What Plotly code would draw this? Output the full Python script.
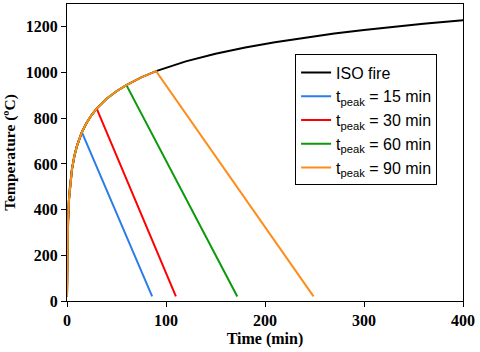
import plotly.graph_objects as go

# ISO 834 standard fire curve
iso_time = [0.5, 1, 2, 3, 4, 5, 7.5, 10, 15, 20, 25, 30, 40, 50, 60, 75, 90,
            105, 120, 150, 180, 210, 240, 270, 300, 330, 360, 400]
iso_temp = [261, 349, 445, 502, 544, 576, 636, 678, 739, 781, 815, 842, 885,
            918, 945, 979, 1006, 1029, 1049, 1082, 1110, 1133, 1153, 1171,
            1186, 1200, 1214, 1229]

# parametric curves: heating along ISO, then linear decay to ambient
t15_time = [0, 0.5, 1, 2, 3, 4, 5, 7.5, 10, 15, 86]
t15_temp = [20, 261, 349, 445, 502, 544, 576, 636, 678, 739, 20]

t30_time = [0, 0.5, 1, 2, 3, 4, 5, 7.5, 10, 15, 20, 25, 30, 110]
t30_temp = [20, 261, 349, 445, 502, 544, 576, 636, 678, 739, 781, 815, 842, 20]

t60_time = [0, 0.5, 1, 2, 3, 4, 5, 7.5, 10, 15, 20, 25, 30, 40, 50, 60, 172]
t60_temp = [20, 261, 349, 445, 502, 544, 576, 636, 678, 739, 781, 815, 842,
            885, 918, 945, 20]

t90_time = [0, 0.5, 1, 2, 3, 4, 5, 7.5, 10, 15, 20, 25, 30, 40, 50, 60, 75,
            90, 249]
t90_temp = [20, 261, 349, 445, 502, 544, 576, 636, 678, 739, 781, 815, 842,
            885, 918, 945, 979, 1006, 20]

series = [
    ("ISO fire", iso_time, iso_temp, "black"),
    ("t<sub>peak</sub> = 15 min", t15_time, t15_temp, "#2b7de9"),
    ("t<sub>peak</sub> = 30 min", t30_time, t30_temp, "#ff0000"),
    ("t<sub>peak</sub> = 60 min", t60_time, t60_temp, "#0a9a0a"),
    ("t<sub>peak</sub> = 90 min", t90_time, t90_temp, "#ff8c1a"),
]

fig = go.Figure()
for name, x, y, color in series:
    fig.add_trace(go.Scatter(
        x=x, y=y, mode="lines", name=name,
        line=dict(color=color, width=2),
    ))

serif_bold = dict(family="Liberation Serif", size=16, color="black", weight="bold")

axis_common = dict(
    showgrid=False, zeroline=False,
    showline=True, linecolor="black", linewidth=1, mirror=True,
    ticks="outside", ticklen=5, tickcolor="black",
    tickfont=serif_bold,
)

fig.update_layout(
    width=480, height=352,
    plot_bgcolor="white", paper_bgcolor="white",
    margin=dict(l=67, r=17, t=4, b=51),
    xaxis=dict(range=[0, 400], dtick=100,
               title=dict(text="Time (min)", standoff=4, font=serif_bold),
               **axis_common),
    yaxis=dict(range=[0, 1300], tickvals=[0, 200, 400, 600, 800, 1000, 1200],
               title=dict(text="Temperature (ºC)", standoff=6,
                          font=dict(serif_bold, size=15.5)),
               **axis_common),
    legend=dict(x=0.576, y=0.83, xanchor="left", yanchor="top",
                bordercolor="black", borderwidth=1, bgcolor="white",
                font=dict(family="Liberation Sans", size=16, color="black"),
                tracegroupgap=0, entrywidth=112, entrywidthmode="pixels"),
    showlegend=True,
)

# drop the default page margin so the figure sits at the window's corner
fig.write_html("out.html", config={"displayModeBar": False},
               post_script="document.body.style.margin='0';")
